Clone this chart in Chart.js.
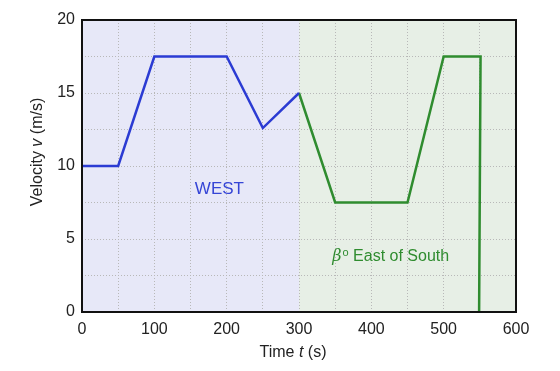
<!DOCTYPE html>
<html>
<head>
<meta charset="utf-8">
<script src="https://cdn.jsdelivr.net/npm/chart.js@4"></script>
<style>
  html, body { margin: 0; padding: 0; background: #fff; }
  #wrap { width: 560px; height: 371px; }
</style>
</head>
<body>
<div id="wrap"><canvas id="velChart" width="560" height="371"></canvas></div>
<script>
// data (time in s, velocity in m/s)
const westTime = [0, 50, 100, 200, 250, 300];
const westVel = [10, 10, 17.5, 17.5, 12.6, 15];
const southTime = [300, 350, 450, 500, 551, 549];
const southVel = [15, 7.5, 7.5, 17.5, 17.5, 0];

const xTicks = [0, 100, 200, 300, 400, 500, 600];
const yTicks = [0, 5, 10, 15, 20];

// region split and label anchors (data units)
const regionSplit = 300;
const westLabel = { x: 156, y: 8.4, text: "WEST" };
const southLabel = { x: 346, y: 3.8, text: " East of South" };

const FONT = "'Liberation Sans', Arial, sans-serif";
const BLUE = "#2b3bd3";
const GREEN = "#2f8c2f";

const toPts = (xs, ys) => xs.map((x, i) => ({ x: x, y: ys[i] }));

// coloured halves + frame + text labels
const decorPlugin = {
  id: "decor",
  beforeDraw(chart) {
    const { ctx, chartArea: a, scales } = chart;
    const xs = scales.x.getPixelForValue(regionSplit);
    ctx.save();
    ctx.fillStyle = "#e7e8f8";
    ctx.fillRect(a.left, a.top, xs - a.left, a.bottom - a.top);
    ctx.fillStyle = "#e7efe6";
    ctx.fillRect(xs, a.top, a.right - xs, a.bottom - a.top);
    ctx.restore();
  },
  afterDraw(chart) {
    const { ctx, chartArea: a, scales } = chart;
    ctx.save();
    // frame
    ctx.strokeStyle = "#111";
    ctx.lineWidth = 2;
    ctx.strokeRect(a.left, a.top, a.right - a.left, a.bottom - a.top);

    // WEST
    ctx.fillStyle = "#3545d6";
    ctx.font = "17px " + FONT;
    ctx.textBaseline = "middle";
    ctx.textAlign = "left";
    ctx.fillText(westLabel.text, scales.x.getPixelForValue(westLabel.x), scales.y.getPixelForValue(westLabel.y));

    // beta East of South
    ctx.fillStyle = "#2f8c2f";
    let px = scales.x.getPixelForValue(southLabel.x);
    const py = scales.y.getPixelForValue(southLabel.y);
    ctx.font = "italic 16px 'DejaVu Serif', serif";
    ctx.fillText("β", px, py);
    px += ctx.measureText("β").width + 1;
    ctx.font = "11px " + FONT;
    ctx.fillText("o", px, py - 4);
    px += ctx.measureText("o").width;
    ctx.font = "16px " + FONT;
    ctx.fillText(southLabel.text, px, py);

    // axis titles with italic symbols
    ctx.fillStyle = "#222";
    const drawParts = (parts, cx, cy) => {
      let w = 0;
      parts.forEach(p => { ctx.font = p[1] + FONT; w += ctx.measureText(p[0]).width; });
      let x = cx - w / 2;
      parts.forEach(p => {
        ctx.font = p[1] + FONT;
        ctx.fillText(p[0], x, cy);
        x += ctx.measureText(p[0]).width;
      });
    };
    drawParts([["Time ", "16px "], ["t", "italic 16px "], [" (s)", "16px "]], (a.left + a.right) / 2 - 6, 353);
    ctx.translate(38, 152);
    ctx.rotate(-Math.PI / 2);
    drawParts([["Velocity ", "16px "], ["v", "italic 16px "], [" (m/s)", "16px "]], 0, 0);
    ctx.restore();
  }
};

new Chart(document.getElementById("velChart"), {
  type: "scatter",
  data: {
    datasets: [
      {
        label: "West",
        data: toPts(westTime, westVel),
        showLine: true,
        borderColor: BLUE,
        borderWidth: 2.5,
        pointRadius: 0,
        tension: 0
      },
      {
        label: "East of South",
        data: toPts(southTime, southVel),
        showLine: true,
        borderColor: GREEN,
        borderWidth: 2.5,
        pointRadius: 0,
        tension: 0
      }
    ]
  },
  options: {
    responsive: false,
    animation: false,
    layout: { padding: { left: 0, right: 44, top: 20, bottom: 0 } },
    plugins: { legend: { display: false }, tooltip: { enabled: false } },
    scales: {
      x: {
        type: "linear",
        min: 0,
        max: 600,
        afterBuildTicks: s => { s.ticks = [0, 50, 100, 150, 200, 250, 300, 350, 400, 450, 500, 550, 600].map(v => ({ value: v })); },
        afterFit: s => { s.height = 59; },
        grid: { color: "#b8b8b8", lineWidth: 1, drawTicks: false },
        border: { display: false, dash: [1, 2] },
        ticks: {
          padding: 8,
          color: "#222",
          font: { family: FONT, size: 16 },
          autoSkip: false,
          maxRotation: 0,
          callback: v => xTicks.includes(v) ? String(v) : ""
        }
      },
      y: {
        type: "linear",
        min: 0,
        max: 20,
        afterBuildTicks: s => { s.ticks = [0, 2.5, 5, 7.5, 10, 12.5, 15, 17.5, 20].map(v => ({ value: v })); },
        afterFit: s => { s.width = 82; },
        grid: { color: "#b8b8b8", lineWidth: 1, drawTicks: false },
        border: { display: false, dash: [1, 2] },
        ticks: {
          padding: 7,
          color: "#222",
          font: { family: FONT, size: 16 },
          autoSkip: false,
          callback: v => yTicks.includes(v) ? String(v) : ""
        }
      }
    }
  },
  plugins: [decorPlugin]
});
</script>
</body>
</html>
